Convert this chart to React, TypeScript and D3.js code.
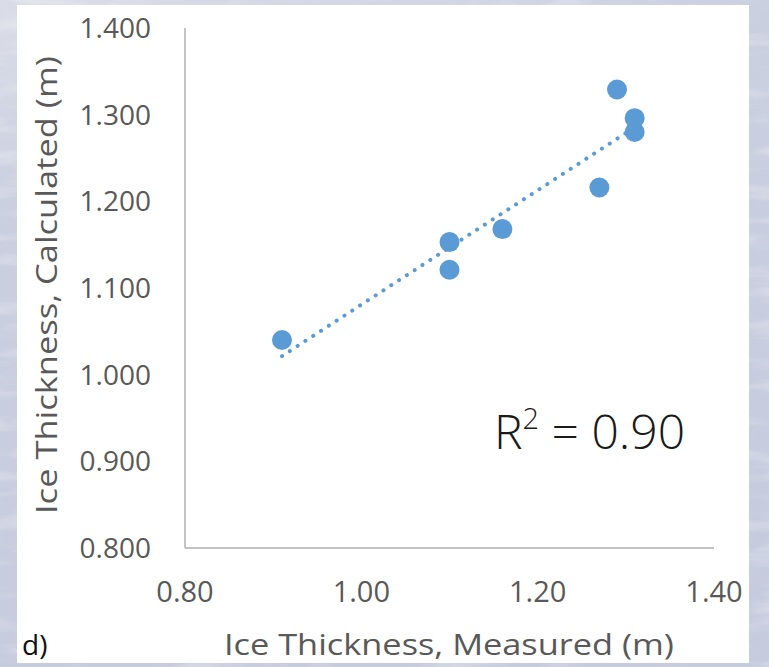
import React from "react";
import * as d3 from "d3";

// Measured vs. calculated ice thickness (m)
const measured = [0.91, 1.10, 1.10, 1.16, 1.27, 1.29, 1.31, 1.31];
const calculated = [1.040, 1.153, 1.121, 1.168, 1.216, 1.329, 1.296, 1.280];
const xTicks = [0.8, 1.0, 1.2, 1.4];
const yTicks = [0.8, 0.9, 1.0, 1.1, 1.2, 1.3, 1.4];
const rSquaredLabel = "0.90";

const W = 769;
const H = 667;
const FONT = "'Open Sans', 'Noto Sans', sans-serif";

export default function App() {
  const x = d3.scaleLinear().domain([0.8, 1.4]).range([185, 714]);
  const y = d3.scaleLinear().domain([0.8, 1.4]).range([548, 28]);

  // least-squares trend line across the measured range
  const mx = d3.mean(measured)!;
  const my = d3.mean(calculated)!;
  const sxy = d3.sum(measured, (v, i) => (v - mx) * (calculated[i] - my));
  const sxx = d3.sum(measured, (v) => (v - mx) ** 2);
  const slope = sxy / sxx;
  const icpt = my - slope * mx;
  const [x0, x1] = d3.extent(measured) as [number, number];
  const trend = d3.line<number>()
    .x((v) => x(v))
    .y((v) => y(icpt + slope * v))([x0, x1]);

  const points = measured.map((m, i) => ({ m, c: calculated[i] }));

  return (
    <svg
      width={W}
      height={H}
      style={{ position: "absolute", left: 0, top: 0, display: "block" }}
    >
      <defs>
        <linearGradient id="bgGrad" x1="0" y1="0" x2="0.3" y2="1">
          <stop offset="0" stopColor="#dadde7" />
          <stop offset="0.3" stopColor="#cacfe0" />
          <stop offset="1" stopColor="#c6cbde" />
        </linearGradient>
        <filter id="frost" x="0" y="0" width="100%" height="100%">
          <feTurbulence type="fractalNoise" baseFrequency="0.012 0.06" numOctaves={4} seed={7} result="n" />
          <feColorMatrix
            in="n"
            type="matrix"
            values="0 0 0 0 1  0 0 0 0 1  0 0 0 0 1  0 0 0 1.6 -0.75"
          />
        </filter>
      </defs>

      {/* frosty backdrop */}
      <rect x={0} y={0} width={W} height={H} fill="url(#bgGrad)" />
      <rect x={0} y={0} width={W} height={H} filter="url(#frost)" opacity={0.5} />

      {/* white chart panel */}
      <rect x={17} y={5} width={732} height={658} fill="#ffffff" />

      {/* axes */}
      <line x1={x(0.8)} x2={x(0.8)} y1={y(1.4)} y2={y(0.8)} stroke="#c4c4c4" strokeWidth={2} />
      <line x1={x(0.8)} x2={x(1.4)} y1={y(0.8)} y2={y(0.8)} stroke="#c4c4c4" strokeWidth={2} />

      {/* y tick labels */}
      {yTicks.map((t) => (
        <text
          key={"y" + t}
          x={151}
          y={y(t)}
          dy="0.36em"
          textAnchor="end"
          fontFamily={FONT}
          fontSize={28}
          fill="#595959"
        >
          {d3.format(".3f")(t)}
        </text>
      ))}

      {/* x tick labels */}
      {xTicks.map((t) => (
        <text
          key={"x" + t}
          x={x(t)}
          y={602}
          textAnchor="middle"
          fontFamily={FONT}
          fontSize={29}
          fill="#595959"
        >
          {d3.format(".2f")(t)}
        </text>
      ))}

      {/* axis titles */}
      <text
        x={449}
        y={655}
        textAnchor="middle"
        fontFamily={FONT}
        fontSize={30}
        fill="#595959"
        textLength={450}
        lengthAdjust="spacingAndGlyphs"
      >
        Ice Thickness, Measured (m)
      </text>
      <text
        transform={`translate(57,285) rotate(-90)`}
        textAnchor="middle"
        fontFamily={FONT}
        fontSize={30}
        fill="#595959"
        textLength={458}
        lengthAdjust="spacingAndGlyphs"
      >
        Ice Thickness, Calculated (m)
      </text>

      {/* trend line */}
      <path
        d={trend!}
        fill="none"
        stroke="#5b9bd5"
        strokeWidth={4}
        strokeLinecap="round"
        strokeDasharray="0.1 9.2"
      />

      {/* observations */}
      {points.map((p, i) => (
        <circle key={i} cx={x(p.m)} cy={y(p.c)} r={10} fill="#5b9bd5" />
      ))}

      {/* goodness of fit */}
      <text x={494} y={449} fontFamily={FONT} fontWeight={300} fontSize={48} fill="#1a1a1a">
        R<tspan dy={-20} fontSize={29}>2</tspan>
        <tspan dy={20}>{" = " + rSquaredLabel}</tspan>
      </text>

      {/* panel letter */}
      <text x={22} y={655} fontFamily={FONT} fontSize={28} fill="#111">
        d)
      </text>
    </svg>
  );
}
